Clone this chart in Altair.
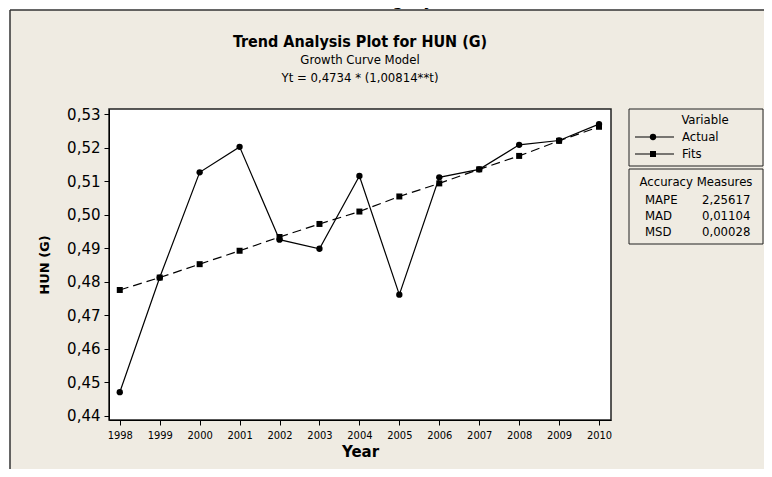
import altair as alt
import pandas as pd

years = list(range(1998, 2011))
actual = [0.4470, 0.4812, 0.5126, 0.5202, 0.4925, 0.4898, 0.5115, 0.4761,
          0.5111, 0.5135, 0.5208, 0.5221, 0.5270]
fits = [0.4775, 0.4812, 0.4852, 0.4892, 0.4933, 0.4972, 0.5009, 0.5054,
        0.5093, 0.5135, 0.5175, 0.5220, 0.5262]
y_ticks = [0.44, 0.45, 0.46, 0.47, 0.48, 0.49, 0.50, 0.51, 0.52, 0.53]
measure_names = ["MAPE", "MAD", "MSD"]
measure_values = ["2,25617", "0,01104", "0,00028"]

FONT = "DejaVu Sans Condensed, DejaVu Sans, sans-serif"
WIDE = "DejaVu Sans, sans-serif"
BG = "#EFEBE2"
W, H = 502, 311
RIGHT_PAD, BOTTOM_PAD = 153, 49

df_a = pd.DataFrame({"Year": years, "value": actual})
df_f = pd.DataFrame({"Year": years, "value": fits})
one = pd.DataFrame({"k": [0]})

xs = alt.Scale(domain=[1997.73, 2010.3], nice=False, zero=False)
ys = alt.Scale(domain=[0.4387, 0.5315], nice=False, zero=False)

xaxis = alt.Axis(values=years, format="d", title="Year", titleFont=WIDE,
                 titleFontSize=15, titleFontWeight="bold", titlePadding=4,
                 labelFont=FONT, labelFontSize=11, labelPadding=4,
                 labelFlush=False, labelOverlap=False, zindex=2)
yaxis = alt.Axis(values=y_ticks, title="HUN (G)", titleFont=WIDE,
                 titleFontSize=13, titleFontWeight="bold", titlePadding=15,
                 labelFont=WIDE, labelFontSize=15, labelPadding=4, zindex=2,
                 labelOverlap=False,
                 labelExpr="replace(format(datum.value, '.2f'), '.', ',')")
xenc = alt.X("Year:Q", scale=xs, axis=xaxis)
yenc = alt.Y("value:Q", scale=ys, axis=yaxis)

base = alt.Chart(one)

panel = base.mark_rect(fill=BG).encode(
    x=alt.value(-99), x2=alt.value(W + RIGHT_PAD), y=alt.value(-99), y2=alt.value(H + BOTTOM_PAD))
panel_left = base.mark_rule(color="#333333", strokeWidth=1.5).encode(
    x=alt.value(-99), y=alt.value(-99), y2=alt.value(H + BOTTOM_PAD))
panel_top = base.mark_rule(color="#333333", strokeWidth=1.5).encode(
    x=alt.value(-99), x2=alt.value(W + RIGHT_PAD), y=alt.value(-99))
plotbg = base.mark_rect(fill="white").encode(
    x=alt.value(0), x2=alt.value(W), y=alt.value(0), y2=alt.value(H))

f_line = alt.Chart(df_f).mark_line(color="black", strokeWidth=1.2,
                                   strokeDash=[9, 5]).encode(x=xenc, y=yenc)
a_line = alt.Chart(df_a).mark_line(color="black", strokeWidth=1.2).encode(x=xenc, y=yenc)
f_pts = alt.Chart(df_f).mark_point(shape="square", filled=True, size=36, color="black",
                                   opacity=1).encode(x=xenc, y=yenc)
a_pts = alt.Chart(df_a).mark_point(shape="circle", filled=True, size=40, color="black",
                                   opacity=1).encode(x=xenc, y=yenc)

frame = base.mark_rect(fill=None, stroke="#222222", strokeWidth=1.5).encode(
    x=alt.value(0), x2=alt.value(W), y=alt.value(0), y2=alt.value(H))

def txt(s, x, y, size=13, weight="normal", align="left", style="normal", font=FONT):
    return base.mark_text(text=s, font=font, fontSize=size, fontWeight=weight,
                          align=align, baseline="middle", fontStyle=style,
                          color="black").encode(x=alt.value(x), y=alt.value(y))

titles = [
    txt("Hungary", 287, -110, size=19, align="center", style="italic", font=WIDE),
    txt("Trend Analysis Plot for HUN (G)", W / 2, -67, size=16, weight="bold", align="center"),
    txt("Growth Curve Model", W / 2, -49, size=13, align="center"),
    txt("Yt = 0,4734 * (1,00814**t)", W / 2, -31, size=13, align="center"),
]

box1 = base.mark_rect(fill=BG, stroke="#222222", strokeWidth=1).encode(
    x=alt.value(520), x2=alt.value(654), y=alt.value(0), y2=alt.value(57))
box2 = base.mark_rect(fill=BG, stroke="#222222", strokeWidth=1).encode(
    x=alt.value(520), x2=alt.value(654), y=alt.value(60), y2=alt.value(135))

leg = [
    box1, box2,
    txt("Variable", 596, 11, align="center"),
    base.mark_rule(color="black", strokeWidth=1.2).encode(
        x=alt.value(526), x2=alt.value(565), y=alt.value(28)),
    base.mark_point(shape="circle", filled=True, size=40, color="black", opacity=1).encode(
        x=alt.value(544), y=alt.value(28)),
    txt("Actual", 573, 28),
    base.mark_rule(color="black", strokeWidth=1.2).encode(
        x=alt.value(526), x2=alt.value(565), y=alt.value(45)),
    base.mark_point(shape="square", filled=True, size=36, color="black", opacity=1).encode(
        x=alt.value(544), y=alt.value(45)),
    txt("Fits", 573, 45),
    txt("Accuracy Measures", 587, 73, align="center"),
]
for i, (n, v) in enumerate(zip(measure_names, measure_values)):
    leg.append(txt(n, 536, 91 + 16 * i))
    leg.append(txt(v, 593, 91 + 16 * i))

chart = alt.layer(panel, panel_left, panel_top, plotbg, f_line, a_line, f_pts, a_pts, frame,
                  *titles, *leg).properties(
    width=W, height=H,
    autosize=alt.AutoSizeParams(type="none"),
    padding={"left": 101, "top": 101, "right": RIGHT_PAD, "bottom": BOTTOM_PAD},
    background="white",
).configure_view(stroke=None).configure_axis(
    labelColor="black", titleColor="black", domainColor="black",
    tickColor="black", tickSize=5, grid=False, domainWidth=1, tickWidth=1,
)

chart.save("out.html", embed_options={"renderer": "svg", "actions": False})
